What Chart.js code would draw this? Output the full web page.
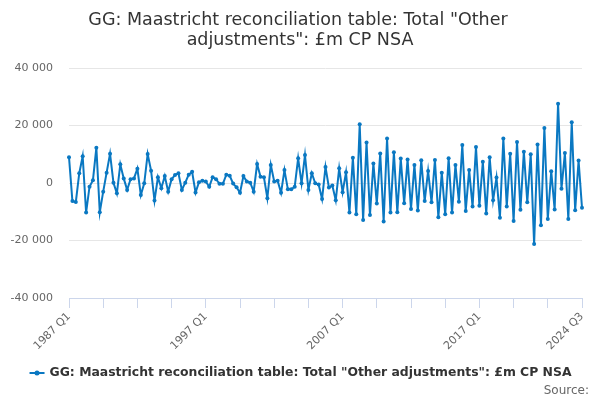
<!DOCTYPE html>
<html><head><meta charset="utf-8">
<script src="https://cdn.jsdelivr.net/npm/chart.js@4/dist/chart.umd.min.js"></script>
<style>html,body{margin:0;padding:0;background:#fff}#wrap{width:600px;height:400px;position:relative}</style>
</head><body><div id="wrap"><canvas id="c" width="600" height="400"></canvas></div>
<script>
const titleLines = ['GG: Maastricht reconciliation table: Total "Other', 'adjustments": £m CP NSA'];
const seriesName = 'GG: Maastricht reconciliation table: Total "Other adjustments": £m CP NSA';
const sourceText = 'Source:';
const startYear = 1987, endYear = 2024, endQuarter = 3;
const categories = [];
for (let y = startYear; y <= endYear; y++) {
  for (let q = 1; q <= 4; q++) {
    if (y === endYear && q > endQuarter) break;
    categories.push(y + ' Q' + q);
  }
}
const values = [
  9000, -6300, -6600, 3400, 9300, -10300, -1300, 1000, 12300, -10200,
  -3000, 3600, 10200, 100, -3600, 6500, 1600, -2400, 1300, 1600,
  5000, -4200, -100, 10100, 4300, -6100, 2000, -1800, 2400, -3000,
  1300, 2800, 3400, -2400, 100, 2900, 3900, -3300, 300, 800,
  500, -1300, 2000, 1300, -300, -300, 2900, 2500, -200, -1500,
  -3400, 2400, 500, 100, -3000, 6600, 2200, 2000, -5300, 6300,
  500, 800, -3400, 4500, -2200, -2200, -1300, 8600, -100, 9700,
  -2400, 3400, -100, -500, -5600, 5600, -1600, -900, -6000, 5100,
  -3200, 3700, -10300, 8800, -10900, 20400, -12900, 14100, -11100, 6800,
  -7100, 10300, -13400, 15500, -10300, 10700, -10200, 8500, -7000, 8200,
  -9000, 6300, -9600, 7900, -6300, 4200, -6700, 8000, -11900, 3600,
  -10900, 8600, -10300, 6300, -6500, 13200, -9700, 4500, -8200, 12500,
  -7900, 7400, -10600, 9000, -6000, 1900, -12100, 15500, -8200, 10200,
  -13200, 14300, -9300, 10900, -6700, 10000, -21200, 13400, -14700, 19100,
  -12500, 4100, -9200, 27600, -2000, 10400, -12500, 21100, -9500, 7800,
  -8600
];
const tickLabels = ['1987 Q1', '1997 Q1', '2007 Q1', '2017 Q1', '2024 Q3'];
const yMin = -40000, yMax = 40000, yStep = 20000;

const LINE = '#0a78c2';
const FONT = "'DejaVu Sans', sans-serif";
Chart.defaults.font.family = FONT;

function fmt(v) {
  const s = String(Math.abs(v)).replace(/\B(?=(\d{3})+(?!\d))/g, ' ');
  return (v < 0 ? '-' : '') + s;
}

const decor = {
  id: 'decor',
  afterDraw(chart) {
    const c = chart.ctx;
    c.save();
    c.fillStyle = '#333333';
    c.textAlign = 'center';
    c.textBaseline = 'middle';
    c.font = '17.5px ' + FONT;
    c.fillText(titleLines[0], 298, 20);
    c.fillText(titleLines[1], 300, 40);
    // legend
    c.font = 'bold 12.4px ' + FONT;
    const w = c.measureText(seriesName).width;
    const total = 15 + 5 + w;
    const x0 = 300.5 - total / 2;
    const ly = 373;
    c.strokeStyle = LINE; c.lineWidth = 2;
    c.beginPath(); c.moveTo(x0, ly); c.lineTo(x0 + 15, ly); c.stroke();
    c.fillStyle = LINE;
    c.beginPath(); c.arc(x0 + 7.5, ly, 2.5, 0, Math.PI * 2); c.fill();
    c.fillStyle = '#333333';
    c.textAlign = 'left';
    c.fillText(seriesName, x0 + 20, ly);
    // source
    c.font = '12px ' + FONT;
    c.fillStyle = '#666666';
    c.textAlign = 'right';
    c.fillText(sourceText, 589, 391);
    c.restore();
  }
};

new Chart(document.getElementById('c'), {
  type: 'line',
  data: {
    labels: categories,
    datasets: [{
      label: seriesName, data: values,
      borderColor: LINE, backgroundColor: LINE,
      borderWidth: 2, pointRadius: 2, pointHoverRadius: 2, pointBorderWidth: 0,
      tension: 0
    }]
  },
  options: {
    responsive: false, animation: false,
    layout: { padding: { top: 68, right: 18, bottom: 0, left: 0 } },
    plugins: { legend: { display: false }, title: { display: false }, tooltip: { enabled: false } },
    scales: {
      x: {
        type: 'category', offset: false,
        grid: {
          drawOnChartArea: false, drawTicks: true, tickLength: 10,
          tickColor: (ctx) => (ctx.index % 10 === 0 || ctx.index === categories.length - 1) ? '#ccd6eb' : 'rgba(0,0,0,0)'
        },
        border: { color: '#ccd6eb', width: 1 },
        ticks: {
          autoSkip: false, maxRotation: 45, minRotation: 45, padding: 2,
          color: '#666666', font: { size: 11 },
          callback: (v, i) => tickLabels.includes(categories[i]) ? categories[i] : ''
        },
        afterFit: (s) => { s.height = 102; s.paddingLeft = 0; s.paddingRight = 0; }
      },
      y: {
        min: yMin, max: yMax,
        ticks: { stepSize: yStep, color: '#666666', font: { size: 11 }, padding: 16, callback: (v) => fmt(v) },
        grid: { color: '#e6e6e6', drawTicks: false },
        border: { display: false },
        afterFit: (s) => { s.width = 69; s.paddingTop = 0; s.paddingBottom = 0; }
      }
    }
  },
  plugins: [decor]
});
</script>
</body></html>
